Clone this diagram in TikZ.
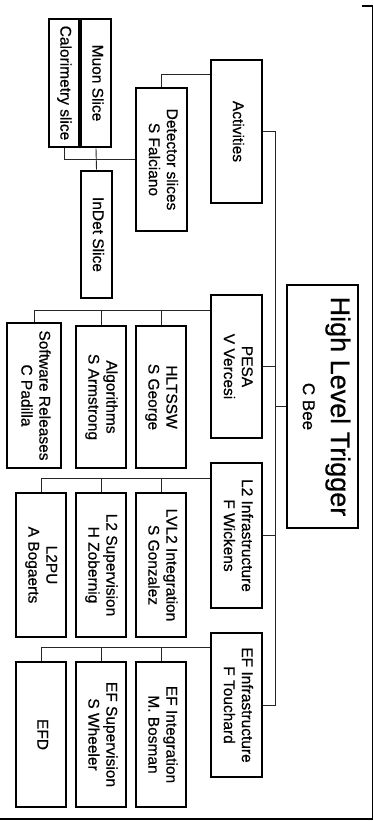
\documentclass[tikz,border=0pt]{standalone}
\usepackage{fontspec}
\setmainfont{Liberation Sans}[FakeBold=0.6]
\usepackage{graphicx}
\newcommand\myvt[1]{\rotatebox{-90}{\fontsize{15.5}{18}\selectfont\begin{tabular}{@{}c@{}}#1\end{tabular}}}
\begin{document}
\begin{tikzpicture}[x=1pt,y=-1pt,
  box/.style={draw, line width=2.6pt, inner sep=0pt, fill=white},
  lnk/.style={line width=0.9pt, draw=black!85},
  frm/.style={line width=1.3pt, draw=black}]
\useasboundingbox (0,0) rectangle (374,821);
% boxes
\node[box, minimum width=30, minimum height=128] (cal) at (64,83) {\myvt{Calorimetry slice}};
\node[box, minimum width=30, minimum height=128] (muon) at (96,83) {\myvt{Muon Slice}};
\node[box, minimum width=51, minimum height=143] (det) at (161.5,159.5) {\myvt{Detector slices\\S Falciano}};
\node[box, minimum width=51, minimum height=143] (act) at (236.5,131.5) {\myvt{Activities}};
\node[box, minimum width=31, minimum height=127] (indet) at (96.5,234.5) {\myvt{InDet Slice}};
\node[box, minimum width=71, minimum height=243] (hlt) at (322.5,406.5) {\rotatebox{-90}{\fontsize{17}{28}\selectfont\begin{tabular}{@{}c@{}}{\fontsize{27}{28}\selectfont High Level Trigger}\\C Bee\end{tabular}}};
\node[box, minimum width=51, minimum height=143] (pesa) at (236.5,366.5) {\myvt{PESA\\V Vercesi}};
\node[box, minimum width=54, minimum height=145] (sw) at (34,395.5) {\myvt{Software Releases\\C Padilla}};
\node[box, minimum width=50, minimum height=142] (alg) at (101,397) {\myvt{Algorithms\\S Armstrong}};
\node[box, minimum width=50, minimum height=142] (hltssw) at (161,397) {\myvt{HLTSSW\\S George}};
\node[box, minimum width=51, minimum height=145] (l2i) at (236.5,535.5) {\myvt{L2 Infrastructure\\F Wickens}};
\node[box, minimum width=50, minimum height=144] (l2pu) at (41,565) {\myvt{L2PU\\A Bogaerts}};
\node[box, minimum width=50, minimum height=144] (l2sup) at (101,565) {\myvt{L2 Supervision\\H Zobernig}};
\node[box, minimum width=50, minimum height=144] (lvl2) at (161,565) {\myvt{LVL2 Integration\\S Gonzalez}};
\node[box, minimum width=51, minimum height=144] (efi) at (236.5,705) {\myvt{EF Infrastructure\\F Touchard}};
\node[box, minimum width=50, minimum height=145] (efd) at (41,734.5) {\myvt{EFD}};
\node[box, minimum width=50, minimum height=145] (efsup) at (101,734.5) {\myvt{EF Supervision\\S Wheeler}};
\node[box, minimum width=50, minimum height=145] (efint) at (161,734.5) {\myvt{EF Integration\\M. Bosman}};
% trunk
\coordinate (tk) at (275,0);
\draw[lnk] (act.east) -| (tk |- efi.east) -- (efi.east);
\draw[lnk] (pesa.east) -- (tk |- pesa.east);
\draw[lnk] (l2i.east) -- (tk |- l2i.east);
\draw[lnk] (hlt.west) -- (tk |- hlt.west);
% activities
\draw[lnk] ([yshift=-16pt]act.north west) -| (det.north);
\draw[lnk] (det.west) -| (cal.south);
\draw[lnk] (muon.south) -- (indet.north);
% pesa
\draw[lnk] ([yshift=-17pt]pesa.north west) -| (sw.north);
\draw[lnk] ([yshift=-17pt]pesa.north west) -| (alg.north);
\draw[lnk] ([yshift=-17pt]pesa.north west) -| (hltssw.north);
% l2
\draw[lnk] ([yshift=-17pt]l2i.north west) -| (l2pu.north);
\draw[lnk] ([yshift=-17pt]l2i.north west) -| (l2sup.north);
\draw[lnk] ([yshift=-17pt]l2i.north west) -| (lvl2.north);
% ef
\draw[lnk] ([yshift=-16pt]efi.north west) -| (efd.north);
\draw[lnk] ([yshift=-16pt]efi.north west) -| (efsup.north);
\draw[lnk] ([yshift=-16pt]efi.north west) -| (efint.north);
% frame
\draw[frm] (362,6) -- (372.5,6) -- (372.5,819) -- (0,819);
\end{tikzpicture}
\end{document}
